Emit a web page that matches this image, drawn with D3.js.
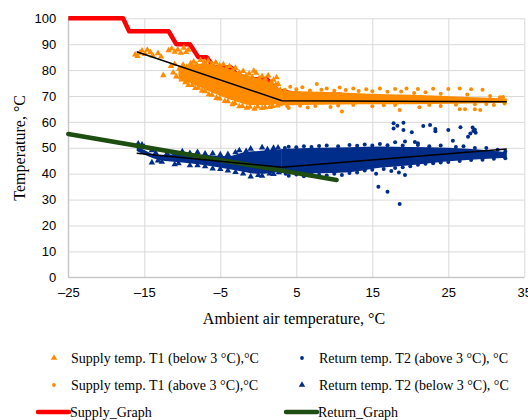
<!DOCTYPE html>
<html>
<head>
<meta charset="utf-8">
<script src="https://cdn.jsdelivr.net/npm/d3@7"></script>
<style>
  html, body { margin: 0; padding: 0; background: #fff; }
  svg { display: block; font-family: "Liberation Serif", "Times New Roman", serif; }
  .grid line { stroke: #d9d9d9; stroke-width: 1; }
  .grid path { display: none; }
  .tick text { fill: #000; font-size: 13px; }
</style>
</head>
<body>
<svg id="chart" width="528" height="420"></svg>
<script>
// ---- data ----
const xTicks = [-25, -15, -5, 5, 15, 25, 35]
const yTicks = [0, 10, 20, 30, 40, 50, 60, 70, 80, 90, 100]

// design curves
const supplyGraph = [[-25, 100], [-17.8, 100], [-17, 95], [-11.8, 95], [-10.8, 90], [-9, 90], [-7.9, 85],
  [-6.8, 85], [-5.8, 81], [-3.6, 81], [-2.4, 76.5], [1.1, 76.5], [2.6, 72], [4.5, 71], [6, 70.5], [11, 70.5]]
const returnGraph = [[-25, 55.3], [10.3, 37.6]]

// fitted trend lines
const supplyTrend = [[-16, 87.1], [3.1, 68.2], [32.7, 67.8]]
const returnTrend = [[-16, 47.9], [3.1, 42.5], [32.7, 49.5]]

// dense cores of the point clouds: [x, low, high]
const supplyBelowCore = [[-10.5, 76.5, 81], [-9, 75, 82], [-7, 72.5, 82.5], [-5, 70, 81.5], [-3, 68, 79.5],
  [-1, 66.5, 77.5], [1, 66.5, 76], [3, 67.3, 72.5]]
const supplyAboveCore = [[3, 66.3, 72], [8, 66.6, 71.6], [14, 66.8, 71], [20, 66.8, 70.5], [26, 67, 69.8],
  [32.7, 67.4, 69]]
const returnBelowCore = [[-16, 48.8, 50.8], [-13, 45.3, 47.3], [-10, 44.3, 47.6], [-7, 43.3, 47.2], [-4, 41.8, 46.8],
  [-2, 40.8, 48.2], [0, 40, 48.8], [3, 40.8, 49.2]]
const returnAboveCore = [[3, 40.3, 49.5], [8, 40.2, 50], [12, 40.6, 50.2], [16, 42.3, 50.5], [20, 43.3, 50.3],
  [25, 44.8, 50], [29, 45.6, 49.3], [32.7, 46.2, 48.3]]

// scattered points around the cores
const supplyBelowPts = [[-16.2, 86], [-15.9, 85.4], [-15.6, 86.6], [-15.3, 87.5], [-14.9, 86.2], [-14.6, 87.8],
  [-14.2, 86.8], [-13.9, 85.6], [-13.2, 86.5], [-12.8, 85.2], [-12.5, 78], [-11.8, 87.6], [-11.4, 88.3],
  [-11, 87], [-10.6, 87.9], [-10.2, 86.6], [-9.8, 88.6], [-9.5, 86.9], [-9.2, 87.8], [-11.2, 79], [-10.8, 77.5],
  [-11.5, 81.5], [-11, 82.3], [-10.4, 80.5], [-10.1, 76.3], [-9.6, 78], [-9.2, 74.2], [-8.5, 83.2], [-7.6, 83.8],
  [-6.6, 83.6], [-5.6, 82.9], [-4.6, 82.2], [-3.8, 81.5], [-3, 80.8], [-2, 79.6], [-1.2, 78.6], [-0.3, 78.9],
  [0.5, 77.6], [1.3, 77.9], [2, 76.2], [2.6, 74.6], [-8.3, 73], [-7.4, 72], [-6.5, 70.6], [-5.5, 69.2], [-4.4, 68],
  [-3.4, 66.8], [-2.5, 66], [-1.5, 65.4], [-0.5, 65], [0.5, 65.3], [1.5, 65.7], [2.5, 66.3],
  [-9.9, 82], [-9.4, 81.2], [-8.9, 82.6], [-8.1, 82.1], [-7.1, 83.1], [-6.1, 82.4], [-5.1, 81.8], [-4.2, 80.6],
  [-3.4, 79.9], [-2.5, 79], [-1.6, 77.9], [-0.8, 77.3], [0.1, 76.8], [0.9, 76.6], [1.7, 75.4], [2.3, 74.4],
  [2.9, 72.3], [-9.6, 75.3], [-8.7, 74.2], [-7.9, 73.1], [-7, 71.8], [-6.1, 70.4], [-5.1, 69], [-4, 67.9],
  [-3.1, 67.2], [-2.1, 66.1], [-1.1, 65.8], [-0.1, 65.9], [0.9, 65.6], [1.9, 66.1], [2.8, 66.8], [-0.6, 79.7],
  [2.4, 77.2], [1.8, 72.9]]
const supplyAbovePts = [[7.7, 74.6], [10.7, 73.3], [4.2, 73.6], [5.8, 73.4], [9, 72.9], [12.5, 72.9], [14.2, 72.6],
  [16, 72.9], [18, 72.7], [19.5, 72.9], [21, 72.7], [23, 72.8], [25, 72.7], [26.5, 72.9], [28, 72.6], [29.5, 72.4],
  [11, 64], [18.6, 64.6], [21.2, 65.7], [26.5, 64.9], [27.2, 64.9], [28.5, 64.9], [29.2, 64.6], [4, 65.4],
  [6.5, 65.6], [9.5, 65.8], [15, 66], [24, 66.1], [31, 66.5], [32.2, 69.6],
  [3.5, 72.4], [5, 72.6], [6.8, 72.1], [8.3, 72.4], [10, 72], [11.5, 72.3], [13.2, 71.9], [15, 71.8], [17, 71.6],
  [18.8, 71.7], [20.5, 71.2], [22, 71.4], [24, 70.9], [27.5, 70.6], [30.5, 70], [31.8, 69.5], [3.8, 66.1],
  [5.5, 66.2], [7.5, 66.1], [10.5, 66.3], [12.5, 66.5], [16.5, 66.4], [18, 66.5], [22.5, 66.5], [26, 66.6],
  [28.5, 66.8], [30, 66.9], [32.4, 67.1]]
const returnBelowPts = [[-15.8, 51.6], [-15.3, 51.2], [-15, 50.3], [-14, 49], [-12, 47.8], [-10, 48.6], [-8, 48.3],
  [-6, 47.8], [-3, 48.2], [-1, 49.6], [0.5, 50.1], [2, 49.9], [-14, 44.3], [-12.7, 44.6], [-11, 43.6],
  [-9, 43.2], [-6, 42], [-3, 40.6], [-1, 38.9], [0.5, 39.2], [2, 39.8],
  [-13.5, 48], [-11, 47.6], [-9, 47.9], [-7, 47.7], [-5, 47.4], [-4, 47.5], [-2.5, 49], [-1.6, 48.7], [1.2, 49.4],
  [2.6, 50], [-13.2, 45], [-10.5, 44], [-8, 43.2], [-7, 42.8], [-5, 41.8], [-4, 41.2], [-2, 40], [0, 39.4],
  [1.5, 40], [2.7, 40.5]]
const returnAbovePts = [[17.8, 59.5], [17.8, 57.5], [18.3, 58.5], [19.1, 59.7], [19.1, 56.9], [20.2, 56],
  [21.7, 58.4], [22.6, 58.8], [23.3, 57.3], [23.3, 56.4], [25, 56.9], [25.6, 52.7], [26.6, 57.9], [27.6, 54.3],
  [27.9, 55.5], [28.2, 57.8], [28.5, 57], [28.6, 55.8], [28.3, 56.5], [18, 52.1], [19.3, 52.4], [20.6, 52.2],
  [21, 51.8], [15.8, 35], [17, 33], [18.6, 28.3], [19.3, 39.5], [18.5, 40.5], [15.5, 40], [17.5, 41],
  [4, 50.4], [6, 50.6], [9, 50.9], [12, 51.1], [14, 51.3], [16, 51.5], [21, 51.1], [24, 50.9], [27, 50.6],
  [30, 49.9], [4, 39.2], [6, 39], [9, 39.3], [11, 39.5], [13, 40.5], [15, 41.5], [19, 42.5], [21, 43.5],
  [23, 44], [25, 44.5], [28, 45.3], [31, 45.8],
  [3.5, 49.9], [5, 50.2], [7, 50.3], [8, 50.7], [10.5, 50.6], [13, 50.8], [15, 50.9], [17, 51], [19, 50.9],
  [22.5, 50.6], [26, 50.3], [28.5, 49.9], [31.5, 49.2], [32.5, 48.6], [3.6, 40], [5, 39.7], [7, 39.9],
  [8, 39.6], [10, 40], [12, 40.3], [14, 41.2], [16.5, 41.8], [18, 42.2], [20, 42.9], [22, 43.8], [24, 44.3],
  [26.5, 44.9], [29.5, 45.4], [32.5, 46]]

const legendRows = [
  { label: 'Supply temp. T1 (below 3 °C),°C', color: '#ff8c00', kind: 'tri', col: 0, row: 0 },
  { label: 'Return temp. T2 (above 3 °C), °C', color: '#002c8a', kind: 'dot', col: 1, row: 0 },
  { label: 'Supply temp. T1 (above 3 °C),°C', color: '#ff8c00', kind: 'dot', col: 0, row: 1 },
  { label: 'Return temp. T2 (below 3 °C), °C', color: '#002c8a', kind: 'tri', col: 1, row: 1 },
  { label: 'Supply_Graph', color: '#ff0000', kind: 'line', col: 0, row: 2 },
  { label: 'Return_Graph', color: '#1e4d12', kind: 'line', col: 1, row: 2 }
]

const ORANGE = '#ff8c00'
const BLUE = '#002c8a'
const RED = '#ff0000'
const GREEN = '#1e4d12'

const svg = d3.select('#chart')
const m = { left: 68.3, right: 524.3, top: 18.3, bottom: 277.3 }

const x = d3.scaleLinear().domain([-25, 35]).range([m.left, m.right])
const y = d3.scaleLinear().domain([0, 100]).range([m.bottom, m.top])

// gridlines
svg.append('g').attr('class', 'grid')
  .attr('transform', `translate(0,${m.bottom})`)
  .call(d3.axisBottom(x).tickValues(xTicks).tickSize(-(m.bottom - m.top)).tickFormat(''))
svg.append('g').attr('class', 'grid')
  .attr('transform', `translate(${m.left},0)`)
  .call(d3.axisLeft(y).tickValues(yTicks).tickSize(-(m.right - m.left)).tickFormat(''))

// tick labels
const fmt = d => d < 0 ? '\u2013' + Math.abs(d) : String(d)
const xa = svg.append('g').attr('transform', `translate(0,${m.bottom})`)
  .call(d3.axisBottom(x).tickValues(xTicks).tickSize(0).tickPadding(10).tickFormat(fmt))
xa.select('.domain').remove()
const ya = svg.append('g').attr('transform', `translate(${m.left},0)`)
  .call(d3.axisLeft(y).tickValues(yTicks).tickSize(0).tickPadding(12))
ya.select('.domain').remove()

// axis lines
svg.append('line').attr('x1', m.left).attr('x2', m.left).attr('y1', m.top).attr('y2', m.bottom)
  .attr('stroke', '#bfbfbf')
svg.append('line').attr('x1', m.left).attr('x2', m.right).attr('y1', m.bottom).attr('y2', m.bottom)
  .attr('stroke', '#bfbfbf')

const line = d3.line().x(d => x(d[0])).y(d => y(d[1]))
const area = d3.area().x(d => x(d[0])).y0(d => y(d[1])).y1(d => y(d[2])).curve(d3.curveMonotoneX)
const tri = d3.symbol(d3.symbolTriangle).size(18)

// supply design curve (under the points)
svg.append('path').datum(supplyGraph).attr('d', line)
  .attr('fill', 'none').attr('stroke', RED).attr('stroke-width', 4.5).attr('stroke-linejoin', 'round')

// point clouds
function cloud(core, pts, color, kind) {
  const g = svg.append('g')
  g.append('path').datum(core).attr('d', area).attr('fill', color)
  if (kind === 'tri') {
    g.selectAll('path.p').data(pts).join('path').attr('class', 'p')
      .attr('d', tri).attr('transform', d => `translate(${x(d[0])},${y(d[1])})`).attr('fill', color)
  } else {
    g.selectAll('circle').data(pts).join('circle')
      .attr('cx', d => x(d[0])).attr('cy', d => y(d[1])).attr('r', 2).attr('fill', color)
  }
}
cloud(supplyBelowCore, supplyBelowPts, ORANGE, 'tri')
cloud(supplyAboveCore, supplyAbovePts, ORANGE, 'dot')
cloud(returnBelowCore, returnBelowPts, BLUE, 'tri')
cloud(returnAboveCore, returnAbovePts, BLUE, 'dot')

// return design curve
svg.append('path').datum(returnGraph).attr('d', line)
  .attr('fill', 'none').attr('stroke', GREEN).attr('stroke-width', 4.5).attr('stroke-linecap', 'round')

// trend lines
;[supplyTrend, returnTrend].forEach(t => {
  svg.append('path').datum(t).attr('d', line)
    .attr('fill', 'none').attr('stroke', '#000').attr('stroke-width', 1.5)
})

// axis titles
svg.append('text').attr('x', 294).attr('y', 324).attr('text-anchor', 'middle')
  .attr('font-size', 16).text('Ambient air temperature, °C')
svg.append('text').attr('transform', `translate(25,${(m.top + m.bottom) / 2}) rotate(-90)`)
  .attr('text-anchor', 'middle').attr('font-size', 16).text('Temperature, °C')

// legend
const colX = [54, 302]
const rowY = [358, 385, 412]
const lg = svg.append('g').attr('font-size', 14)
legendRows.forEach(d => {
  const cx = colX[d.col]
  const cy = rowY[d.row]
  if (d.kind === 'tri') {
    lg.append('path').attr('d', tri).attr('transform', `translate(${cx},${cy})`).attr('fill', d.color)
  } else if (d.kind === 'dot') {
    lg.append('circle').attr('cx', cx).attr('cy', cy).attr('r', 1.9).attr('fill', d.color)
  } else {
    lg.append('line').attr('x1', cx - 16).attr('x2', cx + 15).attr('y1', cy).attr('y2', cy)
      .attr('stroke', d.color).attr('stroke-width', 4.5).attr('stroke-linecap', 'round')
  }
  lg.append('text').attr('x', d.kind === 'line' ? cx + 16 : cx + 17).attr('y', cy + 5).text(d.label)
})
</script>
</body>
</html>
